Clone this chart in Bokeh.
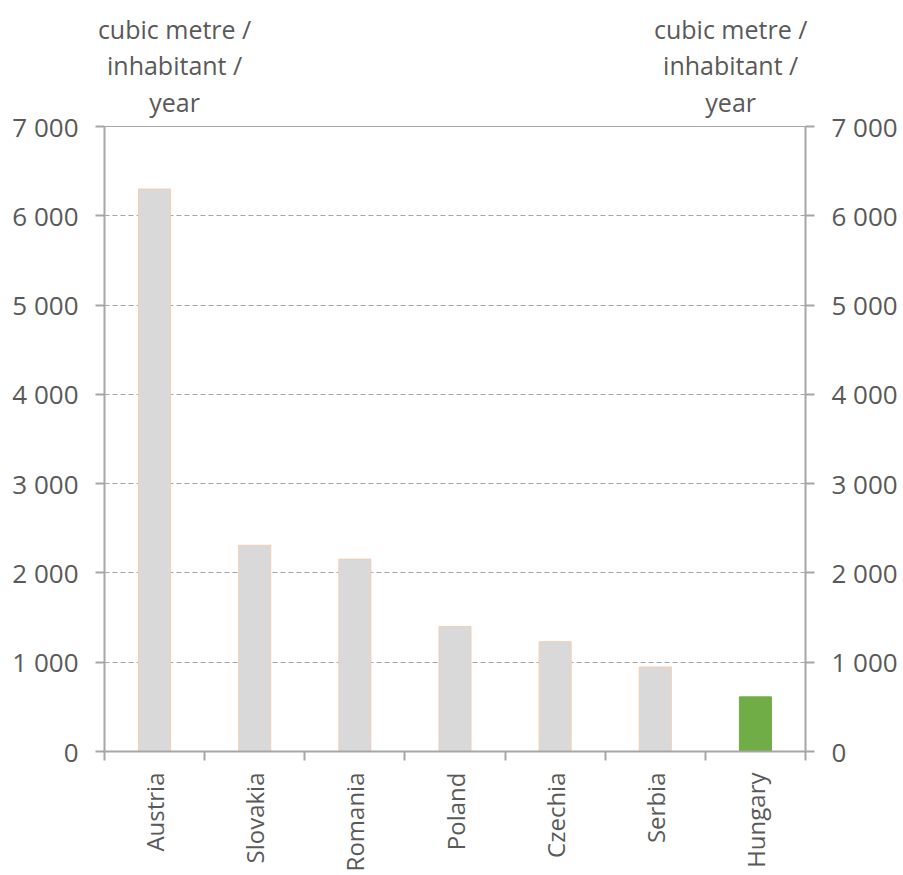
import math
from bokeh.plotting import figure
from bokeh.models import LinearAxis, FixedTicker, Range1d, ColumnDataSource
from bokeh.embed import file_html
from bokeh.resources import INLINE

# ---- data ----
countries = ["Austria", "Slovakia", "Romania", "Poland", "Czechia", "Serbia", "Hungary"]
values = [6300, 2310, 2155, 1400, 1230, 947, 612]
y_ticks = [0, 1000, 2000, 3000, 4000, 5000, 6000, 7000]
y_tick_labels = ["0", "1 000", "2 000", "3 000", "4 000", "5 000", "6 000", "7 000"]
axis_title = "cubic metre /\ninhabitant /\nyear"

# ---- style ----
FONT = "Open Sans"
TXT = "#595959"
GRAY = "#a6a6a6"
n = len(countries)
xc = [i + 0.5 for i in range(n)]
fill = ["#d9d9d9"] * (n - 1) + ["#70ad47"]
edge = ["#f4cdb2"] * (n - 1) + ["#70ad47"]
title_pos = [0.70, n - 0.747]   # where the two unit captions sit above the frame

src = ColumnDataSource(dict(x=xc, top=values, country=countries, fill=fill, edge=edge))

p = figure(width=900, height=874, x_range=Range1d(0, n), y_range=Range1d(0, 7000),
           output_backend="svg", toolbar_location=None,
           min_border_left=104, min_border_right=93, min_border_top=126, min_border_bottom=122)
p.background_fill_color = "white"
p.border_fill_color = "white"
p.outline_line_color = GRAY
p.outline_line_width = 1

p.vbar(x="x", top="top", bottom=0, width=0.32, fill_color="fill", line_color="edge",
       line_width=1, source=src)

# grids
p.xgrid.grid_line_color = None
p.ygrid.grid_line_color = GRAY
p.ygrid.grid_line_dash = "5 3"
p.ygrid.grid_line_width = 1

overrides = {t: l for t, l in zip(y_ticks, y_tick_labels)}

def style_y(ax):
    ax.ticker = FixedTicker(ticks=y_ticks)
    ax.major_label_overrides = overrides
    ax.axis_line_color = GRAY
    ax.axis_line_width = 2
    ax.major_tick_line_color = GRAY
    ax.major_tick_line_width = 2
    ax.major_tick_in = 0
    ax.major_tick_out = 9
    ax.minor_tick_line_color = None
    ax.major_label_standoff = 17
    ax.major_label_text_font = FONT
    ax.major_label_text_font_size = "26px"
    ax.major_label_text_color = TXT

style_y(p.yaxis[0])
right = LinearAxis()
style_y(right)
p.add_layout(right, "right")

xa = p.xaxis[0]
xa.ticker = FixedTicker(ticks=xc, minor_ticks=list(range(n + 1)))
xa.major_label_overrides = {x: c for x, c in zip(xc, countries)}
xa.major_label_orientation = math.pi / 2
xa.axis_line_color = GRAY
xa.axis_line_width = 2
xa.major_tick_line_color = None
xa.major_tick_in = 0
xa.major_tick_out = 9
xa.minor_tick_line_color = GRAY
xa.minor_tick_line_width = 2
xa.minor_tick_in = 0
xa.minor_tick_out = 9
xa.major_label_standoff = 12
xa.major_label_text_font = FONT
xa.major_label_text_font_size = "24px"
xa.major_label_text_color = TXT

# unit captions as labels of an invisible axis above the frame
top_ax = LinearAxis(ticker=FixedTicker(ticks=title_pos),
                    major_label_overrides={t: axis_title for t in title_pos})
top_ax.axis_line_color = None
top_ax.major_tick_line_color = None
top_ax.minor_tick_line_color = None
top_ax.major_tick_in = 0
top_ax.major_tick_out = 0
top_ax.major_label_standoff = 8
top_ax.major_label_text_font = FONT
top_ax.major_label_text_font_size = "25px"
top_ax.major_label_text_color = TXT
top_ax.major_label_text_line_height = 1.07
p.add_layout(top_ax, "above")

open("out.html", "w").write(file_html(p, INLINE))
